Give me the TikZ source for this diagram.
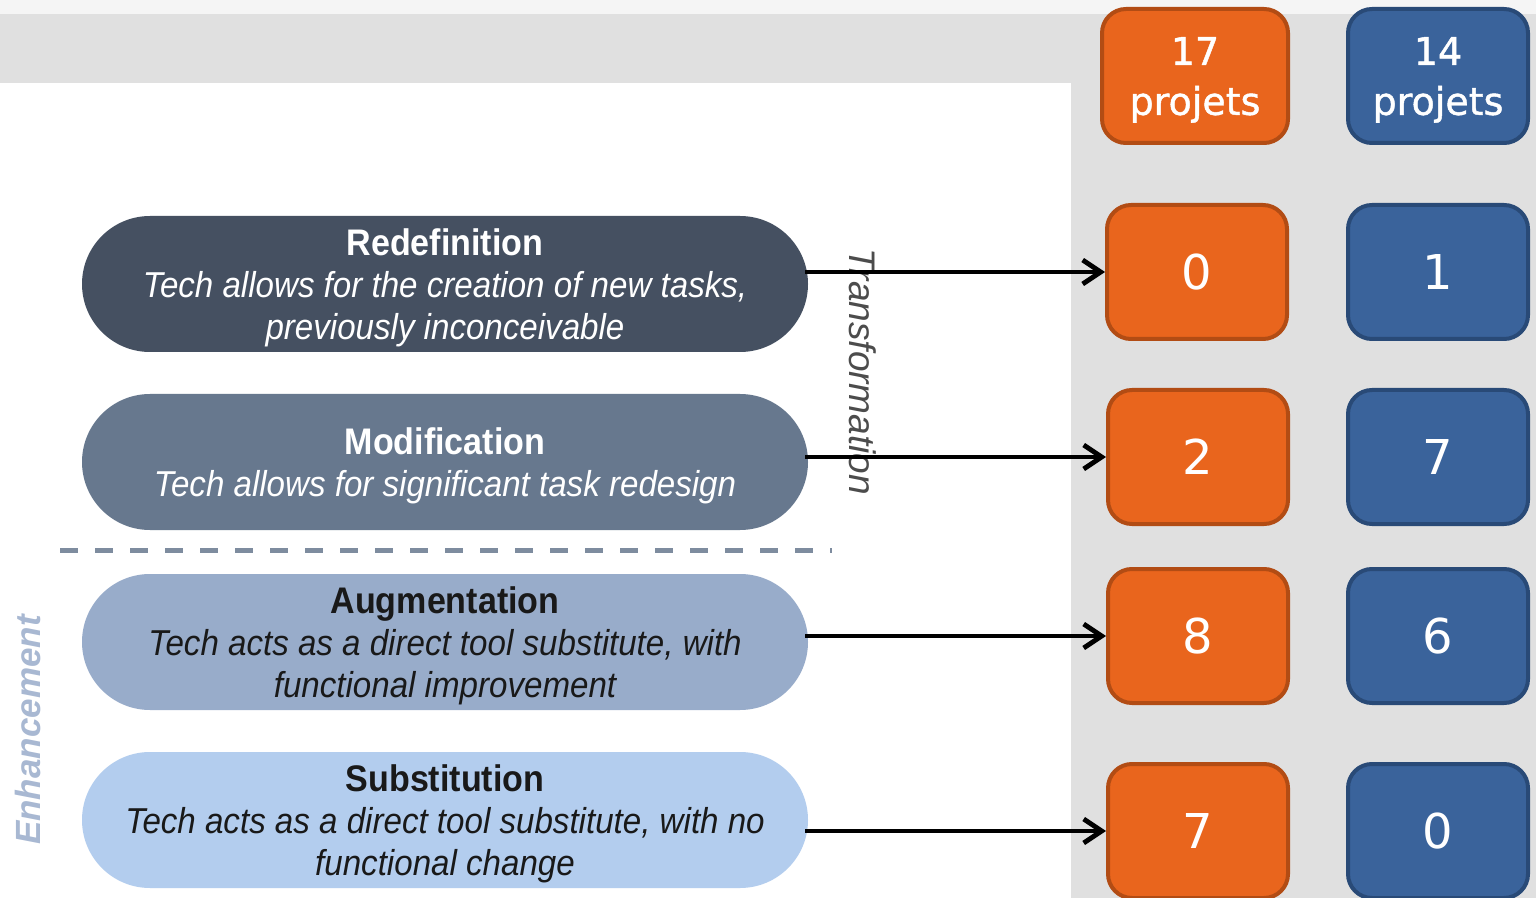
\documentclass[tikz,border=0pt]{standalone}
\usepackage{fontspec}
\setmainfont{Liberation Sans}
\newfontfamily\pillfont[FakeStretch=0.92]{Liberation Sans}
\newfontfamily\boxfont{DejaVu Sans}
\newfontfamily\headfont[FakeBold=1.2]{DejaVu Sans}
\usetikzlibrary{calc,shapes.misc,arrows.meta}
\definecolor{redefcol}{HTML}{455061}
\definecolor{modifcol}{HTML}{67788E}
\definecolor{augmcol}{HTML}{98ACCA}
\definecolor{substcol}{HTML}{B3CDEE}
\definecolor{orangefill}{HTML}{E9651D}
\definecolor{orangeline}{HTML}{B24C14}
\definecolor{bluefill}{HTML}{3A639B}
\definecolor{blueline}{HTML}{294A77}
\newcommand\pilltitle[1]{{\bfseries\fontsize{18.5}{21}\selectfont #1}}

\begin{document}
\begin{tikzpicture}[x=0.5pt, y=-0.5pt,
		pill/.style={rounded rectangle, minimum width=363pt, minimum height=68pt, inner sep=0pt, text depth=0pt, align=center, font=\pillfont\fontsize{18}{21}\selectfont},
		countbox/.style={rectangle, rounded corners=12pt, line width=2pt, minimum width=90pt, minimum height=67pt, inner sep=0pt, text=white, align=center},
		orangebox/.style={countbox, fill=orangefill, draw=orangeline},
		bluebox/.style={countbox, fill=bluefill, draw=blueline},
		pointer/.style={line width=2.4pt, -{Straight Barb[length=9pt, width=12pt, line width=2.4pt]}}]
		%%%%% START %%%%%
		
		\useasboundingbox (0, 0) rectangle (1536, 898);
		\fill[black!12] (0, 0) rectangle (1536, 898);
		\fill[black!4] (0, 0) rectangle (1536, 14);
		\fill[white] (0, 83) rectangle (1071, 898);
		
		\node[pill, fill=redefcol, text=white] (redef) at (445, 284) {\pilltitle{Redefinition}\\\itshape Tech allows for the creation of new tasks,\\\itshape previously inconceivable};
		\node[pill, fill=modifcol, text=white] (modif) at (445, 462) {\pilltitle{Modification}\\\itshape Tech allows for significant task redesign};
		\node[pill, fill=augmcol, text=black!90] (augm) at (445, 642) {\pilltitle{Augmentation}\\\itshape Tech acts as a direct tool substitute, with\\\itshape functional improvement};
		\node[pill, fill=substcol, text=black!90] (subst) at (445, 820) {\pilltitle{Substitution}\\\itshape Tech acts as a direct tool substitute, with no\\\itshape functional change};
		
		\draw[line width=2.5pt, color=modifcol!85, dash pattern=on 9pt off 8.5pt] (60, 550) -- (832, 550);
		
		\node[rotate=-90, text=black!70, font=\itshape\fontsize{18.5}{20}\selectfont] (transf) at (863, 372) {Transformation};
		\node[rotate=90, text=augmcol!85!white, font=\bfseries\itshape\fontsize{17.5}{20}\selectfont] (enhance) at (28, 730) {Enhancement};
		
		\node[orangebox, minimum width=93pt, text depth=0pt, font=\headfont\fontsize{19}{25}\selectfont] (ohead) at (1195, 76) {17\\projets};
		\node[bluebox, text depth=0pt, font=\headfont\fontsize{19}{25}\selectfont] (bhead) at (1438, 76) {14\\projets};
		
		\node[orangebox, font=\boxfont\fontsize{24}{28}\selectfont] (o1) at (1197, 272) {0};
		\node[orangebox, font=\boxfont\fontsize{24}{28}\selectfont] (o2) at (1198, 457) {2};
		\node[orangebox, font=\boxfont\fontsize{24}{28}\selectfont] (o3) at (1198, 636) {8};
		\node[orangebox, font=\boxfont\fontsize{24}{28}\selectfont] (o4) at (1198, 831) {7};
		
		\node[bluebox, font=\boxfont\fontsize{24}{28}\selectfont] (b1) at (1438, 272) {1};
		\node[bluebox, font=\boxfont\fontsize{24}{28}\selectfont] (b2) at (1438, 457) {7};
		\node[bluebox, font=\boxfont\fontsize{24}{28}\selectfont] (b3) at (1438, 636) {6};
		\node[bluebox, font=\boxfont\fontsize{24}{28}\selectfont] (b4) at (1438, 831) {0};
		
		\draw[pointer] ($(o1.west -| redef.east)+(-3, 0)$) -- (o1.west);
		\draw[pointer] ($(o2.west -| modif.east)+(-3, 0)$) -- (o2.west);
		\draw[pointer] ($(o3.west -| augm.east)+(-3, 0)$) -- (o3.west);
		\draw[pointer] ($(o4.west -| subst.east)+(-3, 0)$) -- (o4.west);
		
		%%%%% END %%%%%
	\end{tikzpicture}
\end{document}
